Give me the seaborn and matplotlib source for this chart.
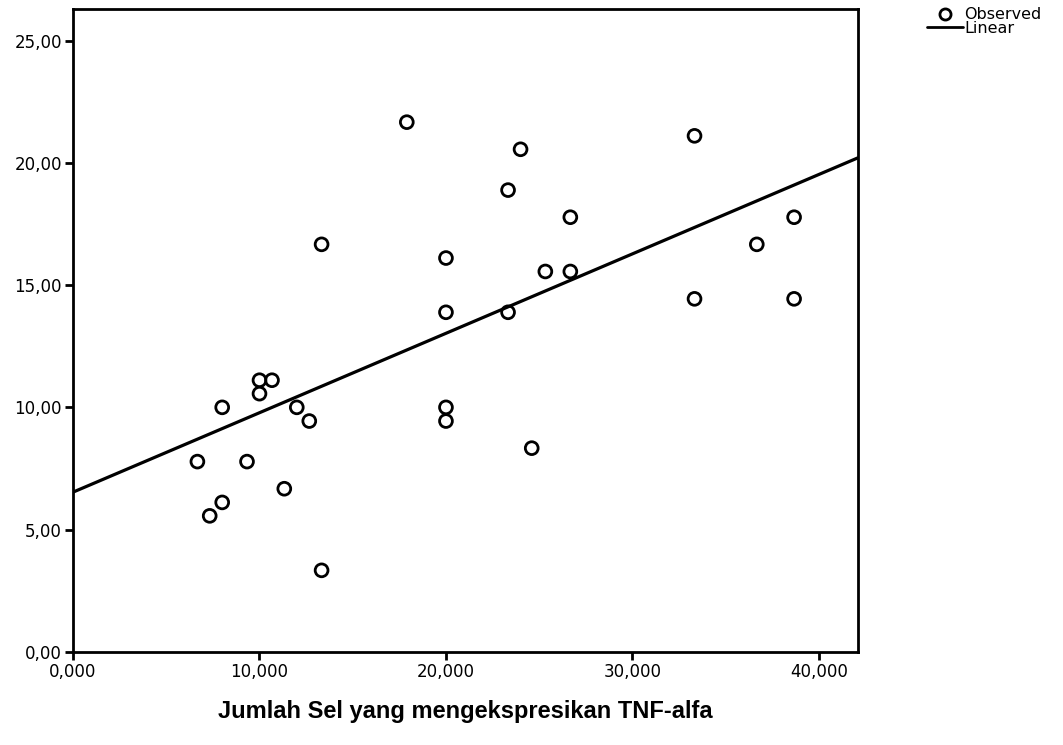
import numpy as np
import matplotlib
matplotlib.use("Agg")
import matplotlib.pyplot as plt
from matplotlib.lines import Line2D
import seaborn as sns

# Datos
jumlah_sel = [6.67, 7.33, 8.00, 8.00, 9.33, 10.00, 10.00, 10.67, 11.33, 12.00,
              12.67, 13.33, 13.33, 17.90, 20.00, 20.00, 20.00, 20.00, 23.33, 23.33,
              24.00, 24.60, 25.33, 26.67, 26.67, 33.33, 33.33, 36.67, 38.67, 38.67]
nilai_y = [7.78, 5.56, 6.11, 10.00, 7.78, 11.11, 10.56, 11.11, 6.67, 10.00,
           9.44, 3.33, 16.67, 21.67, 16.11, 13.89, 10.00, 9.44, 18.89, 13.89,
           20.56, 8.33, 15.56, 17.78, 15.56, 21.11, 14.44, 16.67, 17.78, 14.44]

# Recta lineal (intercepto, pendiente)
intercepto = 6.53
pendiente = 0.325

x_ticks = [0, 10, 20, 30, 40]
x_labels = ["0,000", "10,000", "20,000", "30,000", "40,000"]
y_ticks = [0, 5, 10, 15, 20, 25]
y_labels = ["0,00", "5,00", "10,00", "15,00", "20,00", "25,00"]
x_lim = (0, 42.1)
y_lim = (0, 26.3)

sns.set_theme(style="white")
plt.rcParams["font.family"] = ["DejaVu Sans"]
plt.rcParams["text.color"] = "black"
plt.rcParams["axes.labelcolor"] = "black"
plt.rcParams["xtick.color"] = "black"
plt.rcParams["ytick.color"] = "black"

fig = plt.figure(figsize=(10.63, 7.45), dpi=100)
ax = fig.add_axes([0.0687, 0.1252, 0.7385, 0.8627])

sns.scatterplot(x=jumlah_sel, y=nilai_y, ax=ax, marker="o", s=85,
                facecolors="none", edgecolor="black", linewidth=2, zorder=3)

linea_x = np.array(x_lim)
sns.lineplot(x=linea_x, y=intercepto + pendiente * linea_x, ax=ax,
             color="black", linewidth=2.3, zorder=2)

ax.set_xlim(*x_lim)
ax.set_ylim(*y_lim)
ax.set_xticks(x_ticks)
ax.set_xticklabels(x_labels, fontsize=12, color="black")
ax.set_yticks(y_ticks)
ax.set_yticklabels(y_labels, fontsize=12, color="black")
ax.tick_params(axis="both", direction="out", length=6, width=2, color="black",
               bottom=True, left=True, pad=2)

for lado in ax.spines.values():
    lado.set_color("black")
    lado.set_linewidth(2)

ax.set_xlabel("Jumlah Sel yang mengekspresikan TNF-alfa", fontsize=17,
              fontweight="bold", family=["Liberation Sans"], color="black",
              labelpad=14)
ax.set_ylabel("")

manijas = [
    Line2D([], [], marker="o", linestyle="none", markersize=8,
           markerfacecolor="none", markeredgecolor="black", markeredgewidth=2),
    Line2D([], [], color="black", linewidth=2),
]
fig.legend(manijas, ["Observed", "Linear"], loc="upper left",
           bbox_to_anchor=(0.862, 1.005), frameon=False, fontsize=11.5,
           labelcolor="black", handlelength=2.2, handletextpad=0.1,
           labelspacing=-0.1, borderpad=0.2)

fig.savefig("out.png", dpi=100)
